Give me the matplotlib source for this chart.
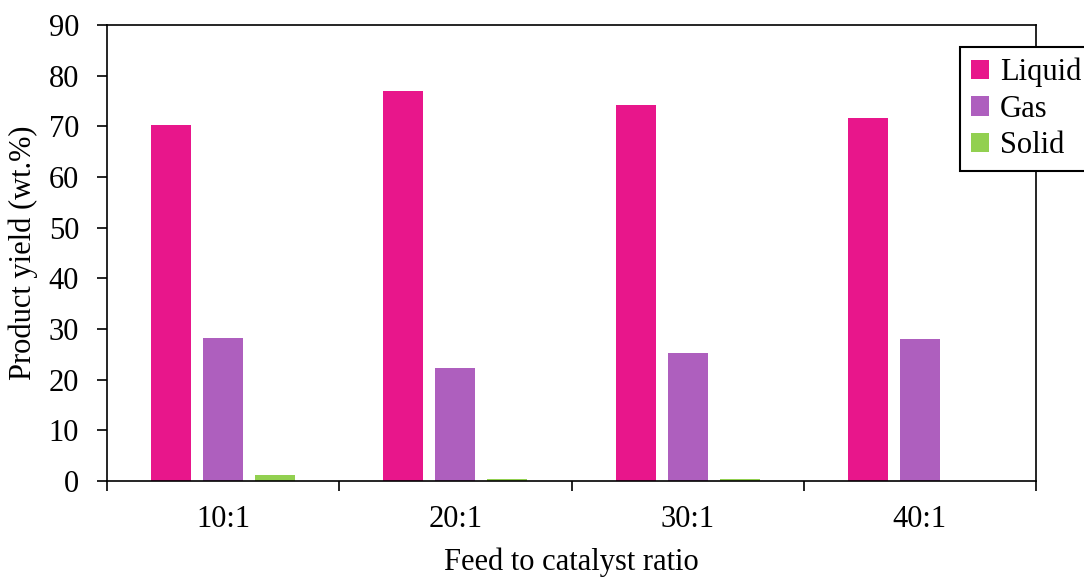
import matplotlib
matplotlib.use("Agg")
import matplotlib.pyplot as plt
import numpy as np

categories = ["10:1", "20:1", "30:1", "40:1"]
liquid = [70.2, 76.9, 74.3, 71.6]
gas = [28.3, 22.4, 25.2, 28.0]
solid = [1.2, 0.3, 0.3, 0.0]

plt.rcParams['font.family'] = ['Liberation Serif', 'DejaVu Serif']
FS = 22

fig = plt.figure(figsize=(10.84, 5.8), dpi=100)
ax = fig.add_axes([107/1084, 1-481/580, (1036-107)/1084, (481-25)/580])

x = np.arange(len(categories))
w = 0.172
off = 0.224
ax.bar(x - off, liquid, w, color="#E8168B", label="Liquid")
ax.bar(x, gas, w, color="#AE5FBE", label="Gas")
ax.bar(x + off, solid, w, color="#92D050", label="Solid")

ax.set_xlim(-0.5, len(categories) - 0.5)
ax.set_ylim(0, 90)
ax.set_yticks(np.arange(0, 91, 10))
ax.set_xticks(np.arange(-0.5, len(categories), 1.0))
ax.set_xticklabels([])
ax.set_xticks(x, minor=True)
ax.set_xticklabels(categories, minor=True)
ax.tick_params(axis='x', which='minor', length=0, pad=17, labelsize=FS)
ax.tick_params(axis='x', which='major', direction='out', length=7, width=1.2)
ax.tick_params(axis='y', direction='out', length=7, width=1.2, labelsize=FS, pad=13)
for s in ax.spines.values():
    s.set_linewidth(1.2)
    s.set_color('black')

ax.set_xlabel("Feed to catalyst ratio", fontsize=FS, labelpad=10)
ax.set_ylabel("Product yield (wt.%)", fontsize=FS, labelpad=8)

leg = fig.legend(loc='upper left', bbox_to_anchor=(960/1084, 1-47/580), fontsize=FS,
                 frameon=True, fancybox=False, edgecolor='black', framealpha=1,
                 handlelength=0.6, handleheight=0.6, handletextpad=0.35,
                 labelspacing=0.25, borderpad=0.35, borderaxespad=0)
leg.get_frame().set_linewidth(1.5)

fig.savefig("out.png", dpi=100)
